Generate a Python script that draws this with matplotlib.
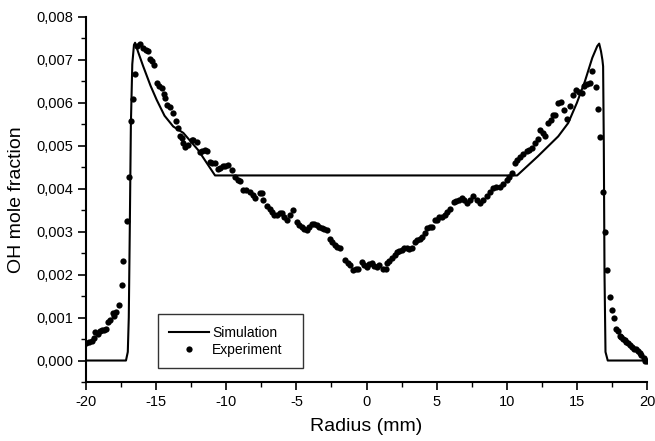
import matplotlib
matplotlib.use("Agg")
import matplotlib.pyplot as plt
from matplotlib.ticker import MultipleLocator, FuncFormatter

plt.rcParams['font.family'] = ['Liberation Sans', 'DejaVu Sans']
plt.rcParams['axes.unicode_minus'] = False

# simulation curve
sim_r = [-20.0, -17.15, -17.02, -16.95, -16.88, -16.8, -16.7, -16.58, -16.5, -16.3,
         -15.92, -15.4, -14.96, -14.4, -13.78, -13.06, -12.0, -10.8,
         10.74, 12.2, 13.67, 14.38, 15.0, 15.57, 16.1, 16.45, 16.59, 16.72, 16.82, 16.87,
         16.92, 16.97, 17.04, 17.2, 20.0]
sim_oh = [0.0, 0.0, 0.0002, 0.001, 0.003, 0.0055, 0.0069, 0.00735, 0.0074, 0.0072,
          0.00685, 0.0064, 0.00607, 0.0057, 0.00545, 0.0053, 0.0049, 0.00431,
          0.00431, 0.00475, 0.00522, 0.00553, 0.006, 0.0065, 0.00705, 0.00732, 0.00738, 0.0072, 0.0070, 0.00685,
          0.005, 0.002, 0.0002, 0.0, 0.0]

# experimental points
exp_r = [-20.0, -19.76, -19.6, -19.45, -19.36, -19.12, -19.0, -18.88, -18.72, -18.57,
         -18.4, -18.29, -18.1, -17.98, -17.86, -17.65, -17.46, -17.34, -17.1, -16.94,
         -16.79, -16.66, -16.5, -16.34, -16.15, -15.95, -15.75, -15.56, -15.44, -15.3,
         -15.15, -14.96, -14.8, -14.6, -14.45, -14.37, -14.2, -14.0, -13.78, -13.6,
         -13.42, -13.3, -13.18, -13.07, -12.94, -12.71, -12.47, -12.35, -12.11, -11.9,
         -11.75, -11.55, -11.4, -11.16, -11.04, -10.81, -10.57, -10.45, -10.25, -10.09,
         -9.86, -9.62, -9.38, -9.14, -9.02, -8.79, -8.6, -8.31, -8.1, -7.95,
         -7.6, -7.48, -7.36, -7.12, -6.9, -6.76, -6.58, -6.41, -6.2, -6.05,
         -5.88, -5.7, -5.45, -5.22, -4.98, -4.8, -4.63, -4.45, -4.27, -4.1,
         -3.91, -3.74, -3.56, -3.38, -3.2, -3.0, -2.85, -2.61, -2.45, -2.25,
         -2.07, -1.9, -1.54, -1.35, -1.18, -0.95, -0.77, -0.59, -0.35, -0.18,
         0.0, 0.18, 0.36, 0.55, 0.72, 0.9, 1.19, 1.36, 1.43, 1.6,
         1.79, 2.0, 2.15, 2.33, 2.5, 2.66, 2.86, 3.05, 3.22, 3.45,
         3.6, 3.81, 3.96, 4.16, 4.32, 4.52, 4.68, 4.88, 5.04, 5.2,
         5.39, 5.58, 5.75, 5.95, 6.23, 6.4, 6.59, 6.78, 6.95, 7.13,
         7.35, 7.61, 7.85, 8.08, 8.3, 8.56, 8.8, 9.03, 9.25, 9.51,
         9.75, 9.99, 10.15, 10.34, 10.58, 10.75, 10.93, 11.15, 11.41, 11.6,
         11.77, 12.0, 12.2, 12.36, 12.55, 12.72, 12.95, 13.15, 13.31, 13.43,
         13.67, 13.86, 14.09, 14.26, 14.5, 14.73, 14.97, 15.15, 15.33, 15.5,
         15.69, 15.92, 16.09, 16.33, 16.47, 16.68, 16.83, 17.0, 17.16, 17.35,
         17.52, 17.66, 17.82, 17.95, 18.06, 18.18, 18.3, 18.42, 18.53, 18.65,
         18.77, 18.92, 19.08, 19.2, 19.36, 19.48, 19.6, 19.75, 19.89, 20.0]
exp_oh = [0.00040, 0.00043, 0.00045, 0.00052, 0.00066, 0.00061, 0.00068, 0.00072, 0.00070, 0.00074,
          0.00090, 0.00095, 0.00110, 0.00104, 0.00112, 0.00129, 0.00175, 0.00232, 0.00325, 0.00427,
          0.00557, 0.00609, 0.00668, 0.00732, 0.00736, 0.00728, 0.00722, 0.00720, 0.00701, 0.00697,
          0.00689, 0.00646, 0.00640, 0.00635, 0.00620, 0.00611, 0.00595, 0.00590, 0.00576, 0.00558,
          0.00541, 0.00522, 0.00518, 0.00506, 0.00498, 0.00502, 0.00514, 0.00514, 0.00508, 0.00485,
          0.00487, 0.00490, 0.00489, 0.00463, 0.00460, 0.00460, 0.00446, 0.00448, 0.00452, 0.00452,
          0.00456, 0.00444, 0.00428, 0.00421, 0.00417, 0.00397, 0.00397, 0.00393, 0.00385, 0.00378,
          0.00389, 0.00389, 0.00374, 0.00360, 0.00352, 0.00345, 0.00340, 0.00339, 0.00343, 0.00343,
          0.00335, 0.00327, 0.00340, 0.00350, 0.00323, 0.00315, 0.00311, 0.00306, 0.00304, 0.00310,
          0.00319, 0.00317, 0.00315, 0.00310, 0.00308, 0.00306, 0.00304, 0.00284, 0.00276, 0.00269,
          0.00264, 0.00261, 0.00234, 0.00226, 0.00222, 0.00210, 0.00212, 0.00214, 0.00230, 0.00222,
          0.00218, 0.00224, 0.00226, 0.00220, 0.00218, 0.00222, 0.00214, 0.00214, 0.00226, 0.00232,
          0.00238, 0.00246, 0.00253, 0.00255, 0.00257, 0.00261, 0.00261, 0.00260, 0.00261, 0.00276,
          0.00280, 0.00284, 0.00288, 0.00296, 0.00308, 0.00311, 0.00311, 0.00327, 0.00327, 0.00335,
          0.00335, 0.00340, 0.00346, 0.00352, 0.00370, 0.00372, 0.00374, 0.00378, 0.00374, 0.00366,
          0.00374, 0.00382, 0.00374, 0.00366, 0.00374, 0.00382, 0.00392, 0.00401, 0.00403, 0.00405,
          0.00412, 0.00421, 0.00428, 0.00436, 0.00460, 0.00468, 0.00475, 0.00480, 0.00487, 0.00490,
          0.00494, 0.00506, 0.00515, 0.00537, 0.00530, 0.00522, 0.00553, 0.00560, 0.00572, 0.00572,
          0.00600, 0.00603, 0.00584, 0.00562, 0.00592, 0.00619, 0.00629, 0.00625, 0.00623, 0.00640,
          0.00643, 0.00646, 0.00674, 0.00637, 0.00586, 0.00520, 0.00393, 0.00300, 0.00210, 0.00148,
          0.00117, 0.00100, 0.00074, 0.00068, 0.00058, 0.00055, 0.00051, 0.00047, 0.00043, 0.00040,
          0.00035, 0.00031, 0.00027, 0.00026, 0.00023, 0.00018, 0.00012, 0.00006, 0.00000, 0.00000]

fig = plt.figure(figsize=(6.55, 4.41), dpi=100)
ax = fig.add_axes([0.1313, 0.1338, 0.8565, 0.8277])

ax.plot(sim_r, sim_oh, color='black', lw=1.5, label='Simulation')
ax.plot(exp_r, exp_oh, 'o', color='black', markersize=4.5, markeredgewidth=0, label='Experiment')

ax.set_xlim(-20, 20)
ax.set_ylim(-0.0005, 0.008)
ax.xaxis.set_major_locator(MultipleLocator(5))
ax.xaxis.set_minor_locator(MultipleLocator(2.5))
ax.yaxis.set_major_locator(MultipleLocator(0.001))
ax.yaxis.set_minor_locator(MultipleLocator(0.0005))
ax.yaxis.set_major_formatter(FuncFormatter(lambda v, p: ('%.3f' % v).replace('.', ',')))
ax.xaxis.set_major_formatter(FuncFormatter(lambda v, p: '%d' % v))

for s in ['top', 'right']:
    ax.spines[s].set_visible(False)
for s in ['left', 'bottom']:
    ax.spines[s].set_linewidth(1.5)

ax.tick_params(which='major', direction='out', length=5.5, width=1.2, labelsize=10.5)
ax.tick_params(which='minor', direction='out', length=3.5, width=1.0)
ax.tick_params(axis='x', pad=4)

ax.set_xlabel('Radius (mm)', fontsize=14, labelpad=6)
ax.set_ylabel('OH mole fraction', fontsize=14, labelpad=8)

leg = ax.legend(loc='lower left', bbox_to_anchor=(0.128, 0.038, 0.259, 0.135), mode='expand',
                borderaxespad=0, fancybox=False, fontsize=10, handlelength=2.9,
                handletextpad=0.2, labelspacing=0.25, borderpad=0.8)
leg.get_frame().set_edgecolor('black')
leg.get_frame().set_linewidth(1.0)

fig.savefig('out.png', dpi=100)
